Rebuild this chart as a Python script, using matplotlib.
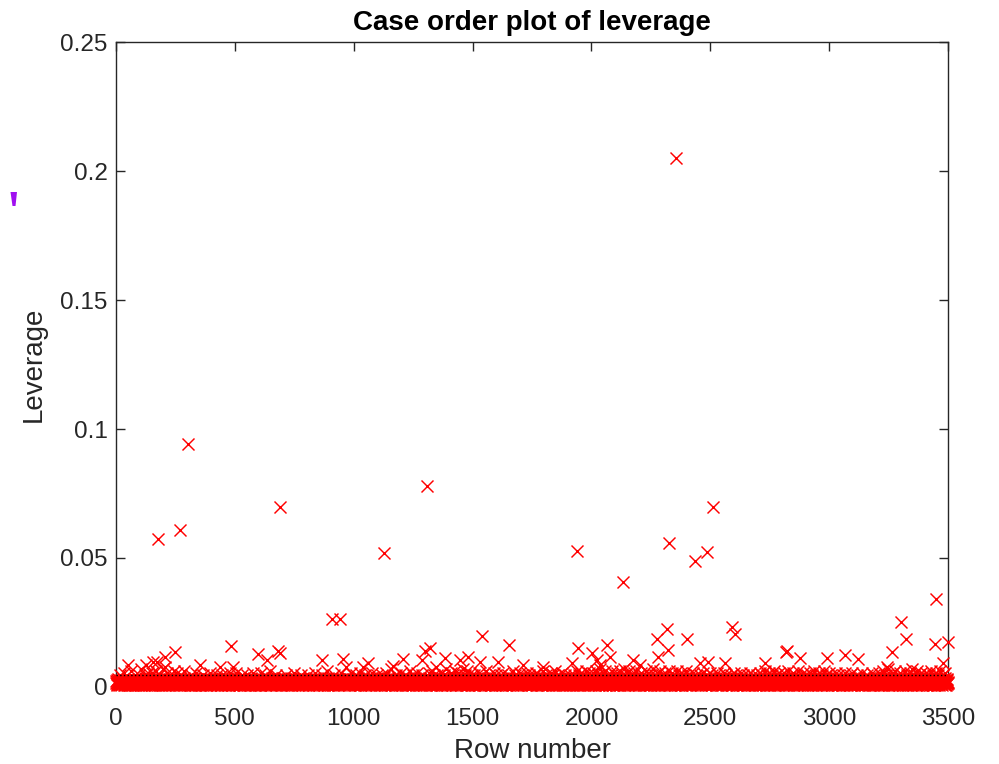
import numpy as np
import matplotlib
matplotlib.use('Agg')
import matplotlib.pyplot as plt
from matplotlib.patches import Polygon

plt.rcParams['font.family'] = ['Liberation Sans', 'DejaVu Sans']

# leverage per row, one character per row:
# '0'-'9' -> small values, 'a'-'e' -> slightly raised values
band_codes = """
3524163427 1532a46235 2413562734 4251b36241 3625143526 2734152643 1526c34152 4362513427 3415263524 1635a42536
2541d36274 3152643518 4a26351427 5342b61538 2645317243 1b53624735 3416257c42 5263148352 2a74361523 4315627d41
6234157e26 3541b26374 1625437a52 3462518243 5c26374152 2416357b34 4352616827 3a15246352 5243718c46 1352467234
4126375241 3527a41636 2643518245 5132b64327 3462715426 2835164353 4162537a24 3526141738 2451637245 5342b16273
1635247356 4251363827 3426a15243 2543716352 6132458a34 3524163725 4163528241 2731546b32 3542617425 1463528347
3216b45263 4537261438 2614357a25 5342681532 3165247436 4a23561724 2356143857 3421b65324 1536274152 4253618243
5342716b53 2163457324 3524168a25 4152636743 2637415c26 3415264853 4263517234 1a42635726 3546127345 2435718624
4162538372 3524a16435 2715346243 5342618527 1463527b34 3251647263 4326158472 2645137a52 3152468324 4527136245
2453617a35 3162548243 4635271536 1524638b42 3462715326 5143628437 2346158a24 4215367352 3524617c48 1635274236
3425168243 2516374a53 4152836427 3645127346 2431b65723 5326147352 1642537e26 3524618432 4163725b34 2536147352
4253716a42 3164528357 2435167b24 5142637358 3625417a36 1453628274 4326157342 2514b36825 3462715243 5136248a37
2645137352 4316258a43 3524617926 1453b26735 4261537248 3542617d52 2163548374 4325167a26 3514628345 2463175b43
5162437836 3245a16273 4536128354 2614357c42 3452617a53 1536248376 4213657b24 3642517835 2451636a42 5324168273
3615247a36 4253168b42 2436517c35 5142638a74 3526147e23 1a64352737 4352618b45 2613547a36 3524167d42 4136258357
2453617b24 3516248a36 4235176c53 1642538b27 3425617a46 5136248d35 2463517a42 3524168c37 4162537b26 2534618a43
3426157a52 5143628374 2536147b26 4215637a48 3652418342 1435267c35 4326158a24 2543617352 3615248b46 5243167a35
4132658373 2645137a42 3514628b35 5236147243 1463528a76 3425167352 2536148c43 4162537a25 3524168347 2415637b36
5326147a42 3142658375 4253167b24 2635148a53 3416257836 1543628a42 4325167b35 2614537a48 3542618273 4136257c36
2453167a35 3625148242 4136258b53 5243617a26 3514268c47 1632547a35 4215368243 2546137b52 3425618a36 5143627342
3261548a47 4532617b26 2143658a53 3624157c42 5316248a35 1453627b26 4235168a73 2614537c45 3542618b36 4126357a52
2a35167b43 3614258c26 4253617a35 5132648d42 2a46137b53 3524168c46 1635247a35 4216358b42 3a42617c35 5163248a26
3425168b47 2615347c53 4136258a26 3542617d35 1a26358b42 4352167c36 2514638a45 3a26147b52 5341628c26 2463517a43
4135267b26 3524618a43 2643517c35 5216348b42 3452617a36 1635248d53 4213567a26 2546138b45 3624157c42 5132648a36
2543617b35 4126358a42 3652147c26 1435268b53 4253617a46 3516248c35 2641357a42 5324168b36 3145627a53 4236158c42
3514267a36 2645138352 4123657b43 5342618a26 3615247353 2453168a42 4136257b35 3524618246 1642537a53 5213648b36
4352617a42 3126548353 2645137b26 5413628a45 3264157342 1536248b53 4325617a26 2614358347 3452168a35 5136247b42
2543618a36 4136257352 3615248b43 5234617a26 1463528357 3524167a42 4213658b36 2654137a53 3425618246 5143627a35
3614258b42 2453167a36 4135268c53 5362147a26 3241658b45 1526347a42 4352618c36 2614537a53 3542168b26 4163257a47
2435617b53 3516248a26 4261357c42 5134628a35 3452617b46 1643528a36 4325167c53 2514638a42 3642517b26 5213648a35
4352617a26 3126548b43 2645137a35 5413628c42 3264157a53 1536248b26 4325617a47 2614358c36 3452168a42 5136247b35
2543618a42 4136257352 3615248b26 5234617a43 1463528353 3524167a26 4213658b42 2654137352 3425618a36 5143627b43
3614258342 2453167a36 4135268253 5362147b26 3241658345 1526347a42 4352618236 2614537b53 3542168a26 4163257347
2435617b53 3516248a26 4261357c42 5134628a35 3452617d46 1643528a36 4325167b53 2514638c42 3642517a26 5213648b35
4352617a26 3126548c43 2645137a35 5413628b42 3264157d53 1536248a26 4325617c47 2614358a36 3452168b42 5136247a35
2543618b42 4136257a53 3615248c26 5234617a43 1463528b53 3524167a26 4213658c42 2654137a53 3425618b36 5143627a43
"""
code_values = {str(d): 0.0002 + 0.00042 * d for d in range(10)}
code_values.update({'a': 0.0047, 'b': 0.0055, 'c': 0.0063, 'd': 0.0071, 'e': 0.0079})

# rows
fringe_rows = [50, 128, 157, 172, 353, 437, 492, 635, 867, 955, 1039, 1060, 1165, 1207,
               1287, 1384, 1447, 1481, 1531, 1607, 1712, 1796, 1918, 2024, 2035, 2078,
               2176, 2204, 2457, 2490, 2562, 2730, 2878, 2991, 3067, 3122, 3243, 3480]
fringe_vals = [0.0085, 0.0085, 0.0097, 0.0097, 0.0085, 0.0078, 0.0078, 0.0105, 0.0105,
               0.0109, 0.0078, 0.0093, 0.0080, 0.0109, 0.0105, 0.0112, 0.0105, 0.0116,
               0.0097, 0.0097, 0.0085, 0.0078, 0.0093, 0.0105, 0.0085, 0.0116, 0.0105,
               0.0085, 0.0093, 0.0097, 0.0093, 0.0093, 0.0112, 0.0112, 0.0124, 0.0109,
               0.0078, 0.0093]

outlier_rows = [177, 206, 248, 269, 303, 484, 597, 681, 690, 692, 909, 942, 1127, 1300,
                1308, 1321, 1540, 1653, 1939, 1944, 2002, 2065, 2133, 2276, 2280, 2318,
                2322, 2326, 2356, 2402, 2436, 2486, 2512, 2591, 2604, 2818, 2823, 3264,
                3302, 3323, 3445, 3450, 3498]
outlier_vals = [0.0574, 0.0116, 0.0136, 0.0609, 0.0942, 0.0159, 0.0128, 0.0140, 0.0698,
                0.0132, 0.0264, 0.0264, 0.0519, 0.0140, 0.0779, 0.0151, 0.0198, 0.0163,
                0.0527, 0.0151, 0.0132, 0.0163, 0.0407, 0.0186, 0.0116, 0.0225, 0.0143,
                0.0558, 0.2050, 0.0186, 0.0488, 0.0523, 0.0698, 0.0233, 0.0205, 0.0136,
                0.0140, 0.0136, 0.0252, 0.0186, 0.0167, 0.0341, 0.0174]

n_coef = 8

codes = "".join(band_codes.split())
leverage = np.array([code_values[c] for c in codes])
leverage[np.array(fringe_rows) - 1] = fringe_vals
leverage[np.array(outlier_rows) - 1] = outlier_vals
rows = np.arange(1, len(leverage) + 1)
n_rows = len(leverage)

xticks = [0, 500, 1000, 1500, 2000, 2500, 3000, 3500]
yticks = [0, 0.05, 0.1, 0.15, 0.2, 0.25]
ytick_labels = ['0', '0.05', '0.1', '0.15', '0.2', '0.25']

fig = plt.figure(figsize=(9.99, 7.64), dpi=100)
ax = fig.add_axes([0.1161, 0.1008, 0.8329, 0.8442])
dark = '#262626'

ax.plot(rows, leverage, 'x', color='#ff0000', markersize=8.6, markeredgewidth=1.05,
        clip_on=False, zorder=3)
ax.plot([0, 3500], [2 * n_coef / n_rows] * 2, ':', color='black', linewidth=1.0, zorder=4)

ax.set_xlim(0, 3500)
ax.set_ylim(0, 0.25)
ax.set_xticks(xticks)
ax.set_xticklabels([str(t) for t in xticks])
ax.set_yticks(yticks)
ax.set_yticklabels(ytick_labels)
ax.tick_params(direction='in', top=True, right=True, length=6.5, width=1.0,
               colors=dark, labelsize=17.5)
ax.tick_params(axis='x', pad=15)
ax.tick_params(axis='y', pad=6)
for s in ax.spines.values():
    s.set_color(dark)
    s.set_linewidth(1.0)

ax.set_title('Case order plot of leverage', fontsize=20, fontweight='bold', color='black', pad=9)
ax.set_xlabel('Row number', fontsize=20, color=dark, labelpad=6)
ax.set_ylabel('Leverage', fontsize=20, color=dark, labelpad=10)

# small violet tick mark at the far left of the figure
W, H = 999.0, 764.0
mark = Polygon([(10.5 / W, 1 - 192 / H), (17 / W, 1 - 192 / H), (15.5 / W, 1 - 206 / H),
                (12.5 / W, 1 - 206 / H)], closed=True, transform=fig.transFigure,
               facecolor='#a010f0', edgecolor='none')
fig.patches.append(mark)

fig.savefig('out.png', dpi=100)
